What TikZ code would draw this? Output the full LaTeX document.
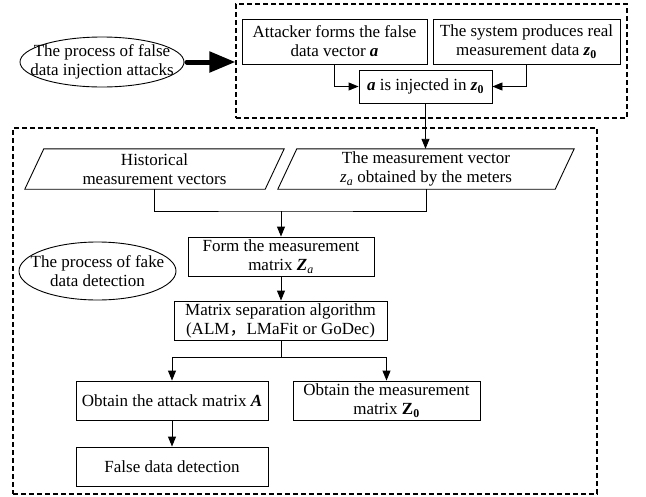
\documentclass[tikz,border=0pt]{standalone}
\usepackage{fontspec}
\setmainfont{Liberation Serif}
\newfontfamily\cjkfont{Noto Sans CJK SC}
\usetikzlibrary{arrows.meta,shapes.geometric,calc}
\newcommand\bi[1]{\textbf{\textit{#1}}}
\begin{document}
\begin{tikzpicture}[x=1pt,y=-1pt, font=\fontsize{17}{19}\selectfont,
  box/.style={draw, line width=0.9pt, inner sep=0pt, align=center},
  ptext/.style={inner sep=0pt, align=center, minimum height=40pt},
  arr/.style={line width=0.9pt, -{Triangle[length=10pt,width=8pt]}},
  ln/.style={line width=0.9pt},
  dbox/.style={draw, line width=1.1pt, dash pattern=on 5pt off 3pt, inner sep=0pt},
  oval/.style={draw, ellipse, line width=0.9pt, inner sep=0pt},
  ]
\useasboundingbox (0,0) rectangle (646,496);

% dashed containers
\node[dbox, minimum width=391pt, minimum height=114pt] (top) at (431.5,61) {};
\node[dbox, minimum width=584pt, minimum height=366pt] (bot) at (305,311) {};

% ellipses
\node[oval, minimum width=164pt, minimum height=50pt,
  label={[align=center]center:The process of false\\data injection attacks}] (e1) at (102,62) {};
\node[oval, minimum width=157pt, minimum height=58pt,
  label={[align=center]center:The process of fake\\data detection}] (e2) at (97.5,271) {};

% thick arrow
\draw[line width=5pt, line cap=round, shorten <=2.5pt, -{Triangle[length=26pt,width=20pt]}] (e1.east) -- (e1.east -| top.west);

% top boxes
\node[box, minimum width=185pt, minimum height=45pt] (a1) at (334.5,41.5) {Attacker forms the false\\data vector \bi{a}};
\node[box, minimum width=187pt, minimum height=45pt] (a2) at (526.5,41.5) {The system produces real\\measurement data \bi{z}\textsubscript{\textbf{0}}};
\node[box, minimum width=133pt, minimum height=33pt] (a3) at (425.5,86.5) {\bi{a} is injected in \bi{z}\textsubscript{\textbf{0}}};

% parallelograms
\node[ptext, minimum width=240pt] (p1) at (154.5,169) {Historical\\measurement vectors};
\node[ptext, minimum width=277pt] (p2) at (426,169) {The measurement vector\\\textit{z}\textsubscript{\textit{a}} obtained by the meters};
\draw[ln] ([xshift=-9.5pt]p1.south west) -- ([xshift=-9.5pt]p1.south east) -- ([xshift=9.5pt]p1.north east) -- ([xshift=9.5pt]p1.north west) -- cycle;
\draw[ln] ([xshift=-9.5pt]p2.south west) -- ([xshift=-9.5pt]p2.south east) -- ([xshift=9.5pt]p2.north east) -- ([xshift=9.5pt]p2.north west) -- cycle;

% lower boxes
\node[box, minimum width=186pt, minimum height=39pt] (f) at (281,256.5) {Form the measurement\\matrix \bi{Z}\textsubscript{\textit{a}}};
\node[box, minimum width=213pt, minimum height=39pt] (m) at (280.5,320.5) {Matrix separation algorithm\\(ALM{\cjkfont ，}LMaFit or GoDec)};
\node[box, minimum width=192pt, minimum height=39pt] (o1) at (172,400.5) {Obtain the attack matrix \bi{A}};
\node[box, minimum width=187pt, minimum height=39pt] (o2) at (386.5,400.5) {Obtain the measurement\\matrix \textbf{Z}\textsubscript{\textbf{0}}};
\node[box, minimum width=192pt, minimum height=39pt] (fd) at (172,466.5) {False data detection};

% connectors
\draw[arr] (a1.south) |- (a3.west);
\draw[arr] (a2.south) |- (a3.east);
\draw[arr] (a3.south) -- (a3.south |- p2.north);
\coordinate (j1) at (281,211);
\draw[ln] (p1.south) |- (j1) -| (p2.south);
\draw[arr] (j1) -- (f.north);
\draw[arr] (f.south) -- (f.south |- m.north);
\coordinate (j2) at (281,357);
\draw[ln] (m.south -| j2) -- (j2);
\draw[arr] (j2) -| (o1.north);
\draw[arr] (j2) -| (o2.north);
\draw[arr] (o1.south) -- (fd.north);
\end{tikzpicture}
\end{document}
